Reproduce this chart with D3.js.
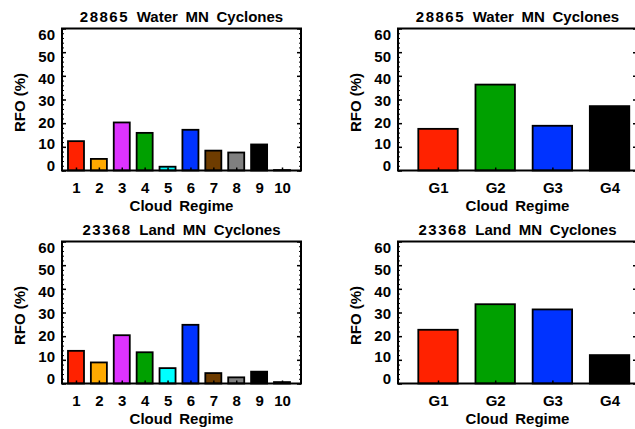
<!DOCTYPE html>
<html>
<head>
<meta charset="utf-8">
<script src="https://cdn.jsdelivr.net/npm/d3@7"></script>
<style>
  html, body { margin: 0; padding: 0; background: #fff; }
  svg { display: block; }
  text { font-family: "Liberation Sans", Arial, Helvetica, sans-serif; fill: #000; }
</style>
</head>
<body>
<svg id="chart" width="635" height="429"></svg>
<script>
// Cloud regimes and regime groups
const regimes = ["1", "2", "3", "4", "5", "6", "7", "8", "9", "10"];
const groups = ["G1", "G2", "G3", "G4"];

// Relative frequency of occurrence (%) per regime
const waterRegimeRFO = [12.4, 4.9, 20.3, 15.9, 1.6, 17.2, 8.4, 7.6, 11.0, 0.2];
const landRegimeRFO = [13.8, 8.9, 20.4, 13.2, 6.5, 24.8, 4.4, 2.6, 5.0, 0.6];

// Relative frequency of occurrence (%) per group
const waterGroupRFO = [17.6, 36.3, 18.9, 27.2];
const landGroupRFO = [22.7, 33.5, 31.3, 12.0];

const regimeColors = ["#ff2200", "#ffaa00", "#dd33ff", "#00a000", "#00ffff",
                      "#0033ff", "#6e3c00", "#808080", "#000000", "#ffffff"];
const groupColors = ["#ff2200", "#00a000", "#0033ff", "#000000"];

const yTicks = [0, 10, 20, 30, 40, 50, 60];
const yMinorTicks = d3.range(0, 61, 2);

// panel titles: cyclone count + surface type
const waterCount = "28865";
const landCount = "23368";
const titleWater = "Water MN Cyclones";
const titleLand = "Land MN Cyclones";
const xTitle = "Cloud Regime";
const yTitle = "RFO (%)";

const FONT_SIZE = 15;
const FONT_WEIGHT = "bold";

const svg = d3.select("#chart");

function panel(opts) {
  const { x0, x1, y0, y1, cats, values, colors, domain, barWidth, count, title } = opts;
  const g = svg.append("g");

  const x = d3.scaleLinear().domain(domain).range([x0, x1]);
  const y = d3.scaleLinear().domain([0, 60]).range([y1, y0]);
  // tick labels sit slightly inside the tick span
  const yLabel = d3.scaleLinear().domain([0, 60]).range([y1 - 4.5, y0 + 6]);

  // bars
  g.selectAll("rect.bar")
    .data(values)
    .join("rect")
    .attr("class", "bar")
    .attr("x", (d, i) => x(i + 1 - barWidth / 2))
    .attr("width", x(barWidth) - x(0))
    .attr("y", d => y(d))
    .attr("height", d => y(0) - y(d))
    .attr("fill", (d, i) => colors[i])
    .attr("stroke", "#000")
    .attr("stroke-width", 1.8);

  // left axis: major and minor ticks pointing inward
  const left = d3.axisLeft(y).tickValues(yTicks).tickSize(-4).tickFormat("");
  const leftG = g.append("g").attr("transform", `translate(${x0},0)`).call(left);
  leftG.select(".domain").remove();
  leftG.selectAll("line").attr("stroke", "#000").attr("stroke-width", 1.5);

  g.selectAll("text.ylab")
    .data(yTicks)
    .join("text")
    .attr("class", "ylab")
    .attr("x", x0 - 7)
    .attr("y", d => yLabel(d))
    .attr("dy", "0.36em")
    .attr("text-anchor", "end")
    .attr("font-size", FONT_SIZE).attr("font-weight", FONT_WEIGHT)
    .text(d => d);

  const leftMinor = d3.axisLeft(y).tickValues(yMinorTicks).tickSize(-2).tickFormat("");
  const lm = g.append("g").attr("transform", `translate(${x0},0)`).call(leftMinor);
  lm.select(".domain").remove();
  lm.selectAll("line").attr("stroke", "#000").attr("stroke-width", 1);

  // right axis ticks
  const right = d3.axisRight(y).tickValues(yTicks).tickSize(-4).tickFormat("");
  const rightG = g.append("g").attr("transform", `translate(${x1},0)`).call(right);
  rightG.select(".domain").remove();
  rightG.selectAll("line").attr("stroke", "#000").attr("stroke-width", 1.5);
  const rightMinor = d3.axisRight(y).tickValues(yMinorTicks).tickSize(-2).tickFormat("");
  const rm = g.append("g").attr("transform", `translate(${x1},0)`).call(rightMinor);
  rm.select(".domain").remove();
  rm.selectAll("line").attr("stroke", "#000").attr("stroke-width", 1);

  // bottom axis: ticks at categories, labels below
  const bottom = d3.axisBottom(x).tickValues(d3.range(1, cats.length + 1))
    .tickSize(-3).tickPadding(12).tickFormat(d => cats[d - 1]);
  const bottomG = g.append("g").attr("transform", `translate(0,${y1})`).call(bottom);
  bottomG.select(".domain").remove();
  bottomG.selectAll("line").attr("stroke", "#000").attr("stroke-width", 1.5);
  bottomG.selectAll("text").attr("font-size", FONT_SIZE).attr("font-weight", FONT_WEIGHT)
    .attr("font-family", null);

  // frame
  g.append("rect")
    .attr("x", x0).attr("y", y0)
    .attr("width", x1 - x0).attr("height", y1 - y0)
    .attr("fill", "none").attr("stroke", "#000").attr("stroke-width", 2);

  // panel title
  const t = g.append("text")
    .attr("x", (x0 + x1) / 2).attr("y", y0 - 7)
    .attr("text-anchor", "middle").attr("font-size", FONT_SIZE).attr("font-weight", FONT_WEIGHT)
    .attr("word-spacing", 3.5);
  t.append("tspan").attr("letter-spacing", 1.5).text(count);
  t.append("tspan").text(" " + title);

  // axis titles
  g.append("text")
    .attr("x", (x0 + x1) / 2).attr("y", y1 + 40)
    .attr("text-anchor", "middle").attr("font-size", FONT_SIZE).attr("font-weight", FONT_WEIGHT)
    .attr("word-spacing", 3)
    .text(xTitle);
  g.append("text")
    .attr("transform", `translate(${x0 - 42},${(y0 + y1) / 2 + 3}) rotate(-90)`)
    .attr("text-anchor", "middle").attr("dy", "0.36em")
    .attr("font-size", FONT_SIZE).attr("font-weight", FONT_WEIGHT)
    .text(yTitle);
}

panel({ x0: 62, x1: 301, y0: 28.5, y1: 170.5, cats: regimes, values: waterRegimeRFO,
        colors: regimeColors, domain: [0.389, 10.83], barWidth: 0.7,
        count: waterCount, title: titleWater });
panel({ x0: 398, x1: 637, y0: 28.5, y1: 170.5, cats: groups, values: waterGroupRFO,
        colors: groupColors, domain: [0.30, 4.48], barWidth: 0.69,
        count: waterCount, title: titleWater });
panel({ x0: 62, x1: 301, y0: 241.5, y1: 383.5, cats: regimes, values: landRegimeRFO,
        colors: regimeColors, domain: [0.389, 10.83], barWidth: 0.7,
        count: landCount, title: titleLand });
panel({ x0: 398, x1: 637, y0: 241.5, y1: 383.5, cats: groups, values: landGroupRFO,
        colors: groupColors, domain: [0.30, 4.48], barWidth: 0.69,
        count: landCount, title: titleLand });
</script>
</body>
</html>
